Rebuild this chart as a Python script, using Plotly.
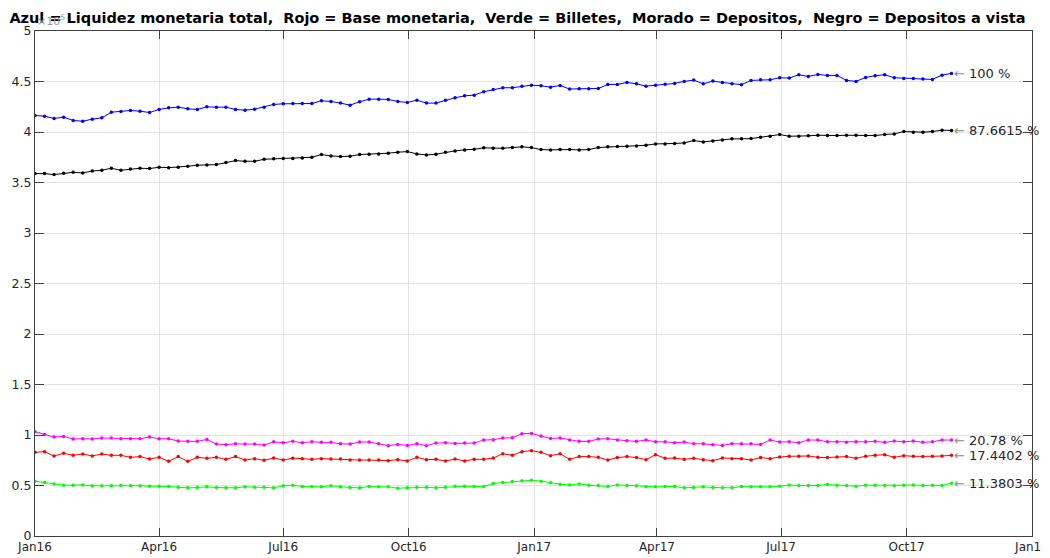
import pandas as pd
import plotly.graph_objects as go

# weekly observations, first Friday of 2016 onward
dates = pd.date_range("2016-01-01", periods=97, freq="7D")

azul_liquidez_total = [
    4.163, 4.157, 4.134, 4.147, 4.114, 4.107, 4.127, 4.140, 4.196, 4.203,
    4.213, 4.206, 4.193, 4.223, 4.239, 4.246, 4.229, 4.223, 4.249, 4.246,
    4.246, 4.223, 4.216, 4.226, 4.246, 4.273, 4.279, 4.282, 4.282, 4.282,
    4.309, 4.302, 4.286, 4.266, 4.299, 4.325, 4.325, 4.322, 4.302, 4.292,
    4.315, 4.286, 4.286, 4.315, 4.339, 4.358, 4.365, 4.398, 4.421, 4.438,
    4.438, 4.454, 4.464, 4.458, 4.444, 4.461, 4.425, 4.428, 4.428, 4.431,
    4.471, 4.471, 4.491, 4.477, 4.454, 4.464, 4.474, 4.481, 4.501, 4.514,
    4.477, 4.504, 4.491, 4.477, 4.468, 4.511, 4.517, 4.517, 4.537, 4.534,
    4.567, 4.550, 4.570, 4.560, 4.560, 4.511, 4.501, 4.540, 4.557, 4.567,
    4.537, 4.530, 4.530, 4.524, 4.521, 4.563, 4.580,
]

negro_depositos_vista = [
    3.588, 3.588, 3.578, 3.591, 3.601, 3.595, 3.614, 3.621, 3.641, 3.621,
    3.634, 3.641, 3.638, 3.651, 3.647, 3.651, 3.661, 3.671, 3.674, 3.677,
    3.697, 3.717, 3.710, 3.710, 3.730, 3.734, 3.737, 3.737, 3.743, 3.750,
    3.777, 3.763, 3.757, 3.760, 3.777, 3.780, 3.783, 3.790, 3.800, 3.806,
    3.783, 3.773, 3.780, 3.800, 3.813, 3.823, 3.829, 3.843, 3.839, 3.839,
    3.846, 3.853, 3.846, 3.826, 3.823, 3.826, 3.826, 3.823, 3.826, 3.846,
    3.853, 3.856, 3.859, 3.862, 3.869, 3.882, 3.882, 3.886, 3.892, 3.915,
    3.902, 3.912, 3.922, 3.932, 3.932, 3.935, 3.948, 3.958, 3.975, 3.958,
    3.958, 3.962, 3.968, 3.965, 3.965, 3.968, 3.968, 3.965, 3.965, 3.975,
    3.981, 4.005, 3.998, 3.998, 4.005, 4.018, 4.015,
]

morado_depositos = [
    1.033, 1.006, 0.980, 0.986, 0.960, 0.963, 0.960, 0.970, 0.970, 0.963,
    0.963, 0.963, 0.980, 0.963, 0.963, 0.940, 0.937, 0.937, 0.956, 0.910,
    0.904, 0.913, 0.910, 0.910, 0.900, 0.933, 0.923, 0.937, 0.923, 0.933,
    0.927, 0.927, 0.913, 0.910, 0.930, 0.930, 0.913, 0.894, 0.907, 0.897,
    0.913, 0.894, 0.920, 0.923, 0.917, 0.920, 0.920, 0.950, 0.953, 0.970,
    0.973, 1.013, 1.016, 0.990, 0.966, 0.970, 0.950, 0.937, 0.937, 0.960,
    0.963, 0.950, 0.943, 0.937, 0.950, 0.933, 0.933, 0.923, 0.930, 0.913,
    0.913, 0.904, 0.897, 0.913, 0.913, 0.913, 0.907, 0.950, 0.930, 0.933,
    0.923, 0.950, 0.950, 0.933, 0.933, 0.927, 0.933, 0.933, 0.937, 0.927,
    0.940, 0.933, 0.940, 0.927, 0.933, 0.950, 0.950,
]

rojo_base_monetaria = [
    0.828, 0.835, 0.792, 0.819, 0.799, 0.812, 0.792, 0.812, 0.799, 0.799,
    0.779, 0.786, 0.762, 0.779, 0.739, 0.786, 0.739, 0.779, 0.769, 0.779,
    0.759, 0.786, 0.752, 0.766, 0.749, 0.772, 0.752, 0.771, 0.766, 0.759,
    0.766, 0.762, 0.762, 0.752, 0.752, 0.752, 0.752, 0.746, 0.756, 0.743,
    0.779, 0.756, 0.759, 0.743, 0.762, 0.743, 0.759, 0.759, 0.772, 0.815,
    0.799, 0.835, 0.845, 0.828, 0.795, 0.815, 0.759, 0.786, 0.786, 0.779,
    0.752, 0.776, 0.786, 0.776, 0.756, 0.805, 0.769, 0.772, 0.759, 0.769,
    0.756, 0.746, 0.772, 0.766, 0.766, 0.752, 0.776, 0.766, 0.782, 0.789,
    0.789, 0.792, 0.779, 0.776, 0.782, 0.786, 0.769, 0.789, 0.799, 0.805,
    0.779, 0.795, 0.789, 0.786, 0.789, 0.792, 0.799,
]

verde_billetes = [
    0.543, 0.530, 0.516, 0.503, 0.503, 0.506, 0.497, 0.497, 0.497, 0.503,
    0.500, 0.497, 0.493, 0.493, 0.490, 0.483, 0.477, 0.480, 0.487, 0.480,
    0.477, 0.477, 0.487, 0.483, 0.483, 0.477, 0.497, 0.503, 0.490, 0.487,
    0.487, 0.497, 0.487, 0.480, 0.477, 0.490, 0.487, 0.487, 0.473, 0.477,
    0.483, 0.483, 0.477, 0.483, 0.493, 0.493, 0.490, 0.490, 0.520, 0.530,
    0.539, 0.546, 0.553, 0.543, 0.526, 0.513, 0.506, 0.516, 0.503, 0.500,
    0.490, 0.506, 0.500, 0.497, 0.487, 0.487, 0.490, 0.490, 0.477, 0.480,
    0.487, 0.480, 0.477, 0.477, 0.490, 0.487, 0.487, 0.487, 0.493, 0.505,
    0.500, 0.500, 0.500, 0.510, 0.503, 0.500, 0.493, 0.503, 0.503, 0.500,
    0.497, 0.503, 0.506, 0.500, 0.503, 0.500, 0.523,
]

series_names = ["Liquidez monetaria total", "Base monetaria", "Billetes",
                "Depositos", "Depositos a vista"]
series_values = [azul_liquidez_total, rojo_base_monetaria, verde_billetes,
                 morado_depositos, negro_depositos_vista]
series_colors = ["#0000ff", "#ff0000", "#00ff00", "#ff00ff", "#000000"]
end_labels = ["100 %", "17.4402 %", "11.3803 %", "20.78 %", "87.6615 %"]

x_tick_dates = pd.date_range("2016-01-01", "2018-01-01", freq="3MS")
x_tick_labels = ["Jan16", "Apr16", "Jul16", "Oct16", "Jan17", "Apr17",
                 "Jul17", "Oct17", "Jan18"]
y_tick_vals = [0, 0.5, 1, 1.5, 2, 2.5, 3, 3.5, 4, 4.5, 5]
y_tick_text = ["0", "0.5", "1", "1.5", "2", "2.5", "3", "3.5", "4", "4.5", "5"]

title_text = ("Azul = Liquidez monetaria total,  Rojo = Base monetaria,  "
              "Verde = Billetes,  Morado = Depositos,  Negro = Depositos a vista")

FONT = "DejaVu Sans"
AXCOL = "#404040"
TXTCOL = "#262626"

# the page body adds an 8px offset at top/left
FIG_W, FIG_H = 1050, 550

fig = go.Figure()
for name, vals, col in zip(series_names, series_values, series_colors):
    fig.add_trace(go.Scatter(
        x=dates, y=vals, mode="lines+markers", name=name,
        line=dict(color=col, width=1),
        marker=dict(color=col, size=3.5, symbol="circle"),
        showlegend=False,
    ))

annotations = []
# exponent marker of the y axis (partly hidden under the title, as in the source)
annotations.append(dict(
    x=0, y=1, xref="paper", yref="paper", text="\u00d710<sup>5</sup>",
    showarrow=False, xanchor="left", yanchor="bottom", yshift=1,
    font=dict(family=FONT, size=11, color="#9a9a9a"),
))
for vals, lab in zip(series_values, end_labels):
    annotations.append(dict(
        x=dates[-1], y=vals[-1], xref="x", yref="y",
        text="<span style='color:#8c8c8c'>\u2190</span> " + lab,
        showarrow=False, xanchor="left", yanchor="middle", xshift=0,
        font=dict(family=FONT, size=13, color=TXTCOL),
    ))

fig.update_layout(
    width=FIG_W, height=FIG_H,
    margin=dict(l=27, r=26, t=23, b=22, autoexpand=False),
    paper_bgcolor="white", plot_bgcolor="white",
    font=dict(family=FONT, size=12.5, color=TXTCOL),
    title=dict(text="<b>" + title_text + "</b>", x=509.5 / FIG_W, xanchor="center",
               xref="container", y=1 - 9.5 / FIG_H, yanchor="middle",
               yref="container", automargin=False,
               font=dict(family=FONT, size=14.5, color="#000000")),
    annotations=annotations,
)
fig.update_xaxes(
    type="date", range=["2016-01-01", "2018-01-01"], automargin=False,
    tickvals=list(x_tick_dates), ticktext=x_tick_labels,
    ticklabeloverflow="allow",
    showgrid=True, gridcolor="#e3e3e3", gridwidth=1,
    showline=True, linecolor=AXCOL, linewidth=1, mirror="allticks",
    ticks="inside", ticklen=8, tickcolor=AXCOL,
    zeroline=False, tickfont=dict(family=FONT, size=12, color=TXTCOL),
)
fig.update_yaxes(
    range=[0, 5], tickvals=y_tick_vals, ticktext=y_tick_text, automargin=False,
    showgrid=True, gridcolor="#e3e3e3", gridwidth=1,
    showline=True, linecolor=AXCOL, linewidth=1, mirror="allticks",
    ticks="inside", ticklen=9, tickcolor=AXCOL,
    zeroline=False, tickfont=dict(family=FONT, size=12.5, color=TXTCOL),
)

fig.write_html("out.html")
